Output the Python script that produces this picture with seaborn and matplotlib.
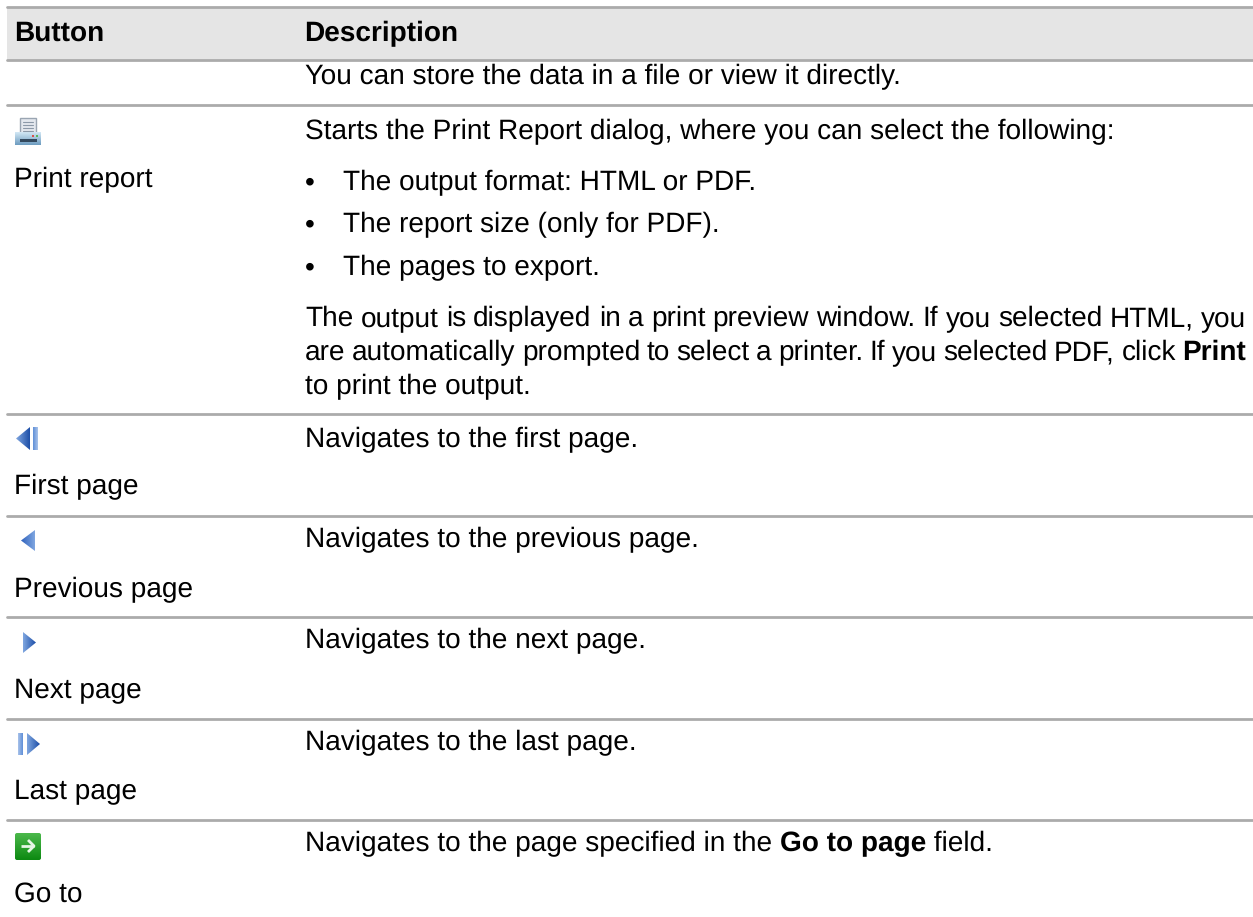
import numpy as np
import pandas as pd
import matplotlib
matplotlib.use('Agg')
import matplotlib.pyplot as plt
from matplotlib.patches import Polygon, Rectangle, FancyBboxPatch
import seaborn as sns

headers = ['Button', 'Description']
button_labels = ['Print report', 'First page', 'Previous page', 'Next page', 'Last page', 'Go to']
intro_line = 'You can store the data in a file or view it directly.'
print_intro = 'Starts the Print Report dialog, where you can select the following:'
print_bullets = ['The output format: HTML or PDF.', 'The report size (only for PDF).', 'The pages to export.']
print_note = [
    [('The output is displayed in a print preview window. If you selected HTML, you', 'normal')],
    [('are automatically prompted to select a printer. If you selected PDF, click', 'normal'), ('Print', 'bold')],
]
print_note_last = 'to print the output.'
nav_lines = [
    [('Navigates to the first page.', 'normal')],
    [('Navigates to the previous page.', 'normal')],
    [('Navigates to the next page.', 'normal')],
    [('Navigates to the last page.', 'normal')],
    [('Navigates to the page specified in the ', 'normal'), ('Go to page', 'bold'), (' field.', 'normal')],
]

# layout, all in pixels of the 1253x917 page
rule_y = [7, 60, 105, 414, 516, 617, 719, 820]
label_y = [187, 494, 597, 698, 799, 902]
nav_y = [447, 547, 648, 750, 851]
bullet_y = [190, 232, 275]
note_y = [326, 360, 394]
left_x = 14
desc_x = 305
bullet_x = 305
bullet_text_x = 343
right_margin = 1246
font_size = 19.9

sns.set_theme(style='white')
plt.rcParams['font.family'] = ['Liberation Sans', 'DejaVu Sans']
plt.rcParams['text.hinting'] = 'no_hinting'
plt.rcParams['text.hinting_factor'] = 1

fig = plt.figure(figsize=(12.53, 9.17), dpi=100)
ax = fig.add_axes([0, 0, 1, 1])
ax.set_xlim(0, 1253)
ax.set_ylim(917, 0)
ax.axis('off')

# header band
ax.add_patch(Rectangle((7, 7), 1246, 53, facecolor='#e5e5e5', edgecolor='none', zorder=0))

# table rules
rules = pd.DataFrame({
    'x': [7, 1253] * len(rule_y),
    'y': np.repeat(rule_y, 2),
    'rule': np.repeat(range(len(rule_y)), 2),
})
sns.lineplot(data=rules, x='x', y='y', units='rule', estimator=None, color='#ababab', linewidth=2.0, ax=ax, legend=False)
ax.set_xlim(0, 1253)
ax.set_ylim(917, 0)
ax.axis('off')


def put_text(x, y, s, weight='normal'):
    return ax.text(x, y, s, fontsize=font_size, fontweight=weight, color='black', va='baseline', ha='left')


def text_end(t):
    renderer = fig.canvas.get_renderer()
    return ax.transData.inverted().transform(t.get_window_extent(renderer).get_points())[1][0]


def put_runs(x, y, runs):
    # mixed bold and regular on one line
    for s, weight in runs:
        t = put_text(x, y, s, weight)
        # trailing spaces are not measured, so measure with a stand-in
        t.set_text(s.replace(' ', '\u00a0'))
        x = text_end(t)


def put_justified(x, y, runs, right):
    # word by word, the gaps stretch or shrink so the line ends at the margin
    words = [(w, weight) for s, weight in runs for w in s.split()]
    items = [put_text(x, y, w, weight) for w, weight in words]
    widths = [text_end(t) - x for t in items]
    gap = (right - x - sum(widths)) / (len(items) - 1)
    for t, width in zip(items, widths):
        t.set_x(x)
        x += width + gap


def gradient_patch(patch, top, bottom, horizontal=False):
    # fill a patch with a two colour ramp
    ax.add_patch(patch)
    patch.set_facecolor('none')
    patch.set_edgecolor('none')
    x0, y0, x1, y1 = patch.get_path().transformed(patch.get_patch_transform()).get_extents().extents
    c0, c1 = np.array(matplotlib.colors.to_rgb(top)), np.array(matplotlib.colors.to_rgb(bottom))
    t = np.linspace(0, 1, 32)
    ramp = c0 + (c1 - c0) * t[:, None]
    ramp = ramp[None, :, :] if horizontal else ramp[:, None, :]
    im = ax.imshow(ramp, extent=[x0, x1, y1, y0], aspect='auto', zorder=3, interpolation='bilinear')
    im.set_clip_path(patch)
    ax.set_xlim(0, 1253)
    ax.set_ylim(917, 0)


def draw_printer():
    ax.add_patch(Rectangle((20, 118), 16, 15, facecolor='#e4e8ee', edgecolor='#9aa5b2', linewidth=1, zorder=3))
    for yy in [122, 125, 128, 131]:
        ax.plot([23, 33], [yy, yy], color='#8c99a8', linewidth=0.8, zorder=4)
    gradient_patch(Rectangle((15, 132), 26, 13), '#d3e8f5', '#6d9cc0')
    ax.add_patch(Rectangle((20, 139), 17, 3, facecolor='#33495e', edgecolor='none', zorder=4))
    ax.add_patch(Rectangle((32, 135), 2, 2, facecolor='#d9534f', edgecolor='none', zorder=4))
    ax.add_patch(Rectangle((36, 135), 2, 2, facecolor='#5cb85c', edgecolor='none', zorder=4))


def draw_first():
    gradient_patch(Polygon([[30, 427], [30, 450], [16, 438.5]]), '#7fa6e0', '#1d4fa8', horizontal=True)
    gradient_patch(Rectangle((33, 427), 5, 23), '#5f8fd8', '#a9c3ea', horizontal=True)


def draw_prev():
    gradient_patch(Polygon([[35, 530], [35, 551], [21, 540.5]]), '#2f62bd', '#7fa6e0', horizontal=True)


def draw_next():
    gradient_patch(Polygon([[23, 632], [23, 653], [36, 642.5]]), '#7fa6e0', '#1d4fa8', horizontal=True)


def draw_last():
    gradient_patch(Rectangle((18, 733), 5, 22), '#a9c3ea', '#5f8fd8', horizontal=True)
    gradient_patch(Polygon([[27, 733], [27, 755], [40, 744]]), '#7fa6e0', '#1d4fa8', horizontal=True)


def draw_goto():
    box = FancyBboxPatch((15, 833), 26, 27, boxstyle='round,pad=0,rounding_size=2')
    gradient_patch(box, '#4bb84b', '#0d8a12')
    ax.plot([21, 34], [846, 846], color='#e6f6e6', linewidth=2, zorder=4, solid_capstyle='butt')
    ax.plot([28, 34, 28], [840, 846, 852], color='#e6f6e6', linewidth=2, zorder=4, solid_capstyle='butt')


# header row
put_text(left_x, 41, headers[0], 'bold')
put_text(desc_x - 1, 41, headers[1], 'bold')

# first, cut off row
put_text(desc_x, 84, intro_line)

# print report row
draw_printer()
put_text(left_x, label_y[0], button_labels[0])
put_text(desc_x, 139, print_intro)
for y, s in zip(bullet_y, print_bullets):
    put_text(bullet_x, y, '\u2022')
    put_text(bullet_text_x, y, s)
for y, runs in zip(note_y, print_note):
    put_justified(desc_x, y, runs, right_margin)
put_text(desc_x, note_y[2], print_note_last)

# navigation rows
for draw in [draw_first, draw_prev, draw_next, draw_last, draw_goto]:
    draw()
for y, s in zip(label_y[1:], button_labels[1:]):
    put_text(left_x, y, s)
for y, runs in zip(nav_y, nav_lines):
    put_runs(desc_x, y, runs)

fig.savefig('out.png', dpi=100, facecolor='white')
